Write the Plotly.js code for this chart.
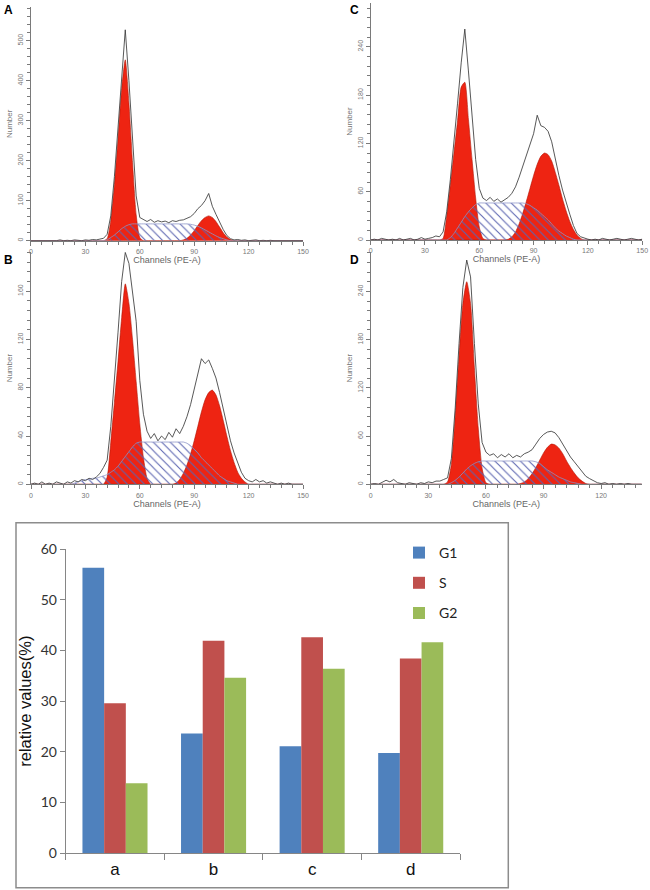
<!DOCTYPE html>
<html>
<head>
<meta charset="utf-8">
<script src="https://cdn.plot.ly/plotly-3.0.1.min.js"></script>
<style>html,body{margin:0;padding:0;background:#fff;}#chart{width:650px;height:890px;}</style>
</head>
<body>
<div id="chart"></div>
<script>
// ---------- DATA ----------
// Flow cytometry channel grid (PE-A)
const channels = [0,2,4,6,8,10,12,14,16,18,20,22,24,26,28,30,32,34,36,38,40,42,44,46,48,50,52,54,56,58,60,62,64,66,68,70,72,74,76,78,80,82,84,86,88,90,92,94,96,98,100,102,104,106,108,110,112,114,116,118,120,122,124,126,128,130,132,134,136,138,140,142,144,146,148,150];

// Panel A
const A_total = [0,0,1,0,0,1,0,0,2,0, 1,0,2,1,0,2,1,3,2,4, 6,16,62,160,285,420,527,400,245,112, 58,52,48,53,46,50,47,49,45,50, 48,51,52,56,60,68,80,88,100,118, 86,66,45,28,13,5,2,3,1,2, 0,1,2,0,1,0,1,0,0,1, 0,0,1,0,0,0];
const A_G1 = [0,0,0,0,0,0,0,0,0,0, 0,0,0,0,0,0,0,0,0,0, 0,5,50,140,255,380,452,345,195,65, 8,0,0,0,0,0,0,0,0,0, 0,0,0,0,0,0,0,0,0,0, 0,0,0,0,0,0,0,0,0,0, 0,0,0,0,0,0,0,0,0,0, 0,0,0,0,0,0];
const A_S = [0,0,0,0,0,0,0,0,0,0, 0,0,0,0,0,0,0,0,0,0, 0,2,8,14,22,30,36,40,42,42, 42,42,42,42,42,42,42,42,42,42, 42,42,42,42,41,39,36,32,27,22, 17,12,8,5,2,0,0,0,0,0, 0,0,0,0,0,0,0,0,0,0, 0,0,0,0,0,0];
const A_G2 = [0,0,0,0,0,0,0,0,0,0, 0,0,0,0,0,0,0,0,0,0, 0,0,0,0,0,0,0,0,0,0, 0,0,0,0,0,0,0,0,0,0, 0,0,2,6,14,25,38,50,58,62, 58,48,34,20,9,3,0,0,0,0, 0,0,0,0,0,0,0,0,0,0, 0,0,0,0,0,0];

// Panel B
const B_total = [0,1,0,2,0,1,0,2,1,0, 2,1,3,2,4,3,5,4,6,9, 14,20,48,85,126,168,192,183,160,135, 86,58,44,38,42,36,40,37,43,39, 46,42,48,56,66,78,90,104,100,103, 96,88,76,62,50,36,26,18,10,5, 3,2,4,2,3,1,2,1,0,1, 0,1,0,0,0,0];
const B_G1 = [0,0,0,0,0,0,0,0,0,0, 0,0,0,0,0,0,0,0,0,0, 0,6,35,68,102,138,166,150,120,85, 50,22,5,0,0,0,0,0,0,0, 0,0,0,0,0,0,0,0,0,0, 0,0,0,0,0,0,0,0,0,0, 0,0,0,0,0,0,0,0,0,0, 0,0,0,0,0,0];
const B_S = [0,0,0,0,0,0,0,0,0,0, 0,0,1,2,3,4,4,5,5,6, 7,8,10,12,15,19,23,27,31,34, 35,35,35,35,35,35,35,35,35,35, 35,35,35,34,32,29,26,22,19,16, 13,10,7,5,3,2,1,0,0,0, 0,0,0,0,0,0,0,0,0,0, 0,0,0,0,0,0];
const B_G2 = [0,0,0,0,0,0,0,0,0,0, 0,0,0,0,0,0,0,0,0,0, 0,0,0,0,0,0,0,0,0,0, 0,0,0,0,0,0,0,0,0,0, 1,4,9,16,25,36,48,60,70,76, 78,74,65,53,40,28,18,10,5,2, 0,0,0,0,0,0,0,0,0,0, 0,0,0,0,0,0];

// Panel C
const C_total = [0,1,0,2,1,0,1,0,2,0, 1,2,0,1,3,1,2,3,5,4, 10,35,75,120,170,220,262,210,150,100, 64,52,49,53,48,51,47,50,53,58, 66,78,92,104,118,132,155,142,140,135, 122,100,80,62,46,32,18,8,4,2, 1,0,1,0,2,1,0,1,2,1, 0,1,2,1,0,1];
const C_G1 = [0,0,0,0,0,0,0,0,0,0, 0,0,0,0,0,0,0,0,0,0, 2,30,68,108,148,190,196,150,100,52, 16,2,0,0,0,0,0,0,0,0, 0,0,0,0,0,0,0,0,0,0, 0,0,0,0,0,0,0,0,0,0, 0,0,0,0,0,0,0,0,0,0, 0,0,0,0,0,0];
const C_S = [0,0,0,0,0,0,0,0,0,0, 0,0,0,0,0,0,0,0,0,0, 0,0,3,8,15,22,29,35,40,44, 46,46,46,46,46,46,46,46,46,46, 46,46,46,45,43,40,37,33,29,25, 20,15,11,8,5,3,1,0,0,0, 0,0,0,0,0,0,0,0,0,0, 0,0,0,0,0,0];
const C_G2 = [0,0,0,0,0,0,0,0,0,0, 0,0,0,0,0,0,0,0,0,0, 0,0,0,0,0,0,0,0,0,0, 0,0,0,0,0,0,0,0,1,4, 10,20,33,48,64,80,94,104,108,106, 98,84,68,51,36,23,13,6,2,0, 0,0,0,0,0,0,0,0,0,0, 0,0,0,0,0,0];

// Panel D
const D_total = [0,1,0,2,5,3,6,2,1,0, 2,1,0,2,1,3,2,4,4,6, 8,32,95,175,245,279,258,175,100,52, 40,36,38,33,37,34,38,33,36,34, 38,40,43,50,57,62,65,66,64,58, 50,42,34,28,22,15,10,7,4,2, 1,2,0,1,0,1,0,1,0,0, 0,0,0,0,0,0];
const D_G1 = [0,0,0,0,0,0,0,0,0,0, 0,0,0,0,0,0,0,0,0,0, 3,25,85,160,225,252,225,145,70,20, 2,0,0,0,0,0,0,0,0,0, 0,0,0,0,0,0,0,0,0,0, 0,0,0,0,0,0,0,0,0,0, 0,0,0,0,0,0,0,0,0,0, 0,0,0,0,0,0];
const D_S = [0,0,0,0,0,0,0,0,0,0, 0,0,0,0,0,0,0,0,0,0, 0,2,5,9,14,19,23,26,28,29, 29,29,29,29,29,29,29,29,29,29, 29,29,29,28,26,22,18,15,12,9, 7,5,3,2,1,0,0,0,0,0, 0,0,0,0,0,0,0,0,0,0, 0,0,0,0,0,0];
const D_G2 = [0,0,0,0,0,0,0,0,0,0, 0,0,0,0,0,0,0,0,0,0, 0,0,0,0,0,0,0,0,0,0, 0,0,0,0,0,0,0,0,0,1, 3,7,13,21,30,39,46,50,49,45, 38,29,21,14,8,4,1,0,0,0, 0,0,0,0,0,0,0,0,0,0, 0,0,0,0,0,0];

// Bar chart (relative values %)
const groups = ['a','b','c','d'];
const phaseNames = ['G1','S','G2'];
const G1_pct = [56.3, 23.6, 21.1, 19.8];
const S_pct  = [29.6, 41.9, 42.6, 38.4];
const G2_pct = [13.8, 34.6, 36.4, 41.6];

// Histogram axis tick steps
const xTickStep = 30;
const yTickStepA = 100, yTickStepB = 40, yTickStepC = 60, yTickStepD = 60;

// ---------- STYLE ----------
const RED = '#ee2412';
const HATCH = '#5b64b0';
const LINE = '#3a3a3a';
const AXC = '#7a7a7a';
const FONT = 'Liberation Sans, Arial, sans-serif';

function histTraces(total, g1, s, g2, xa, ya) {
  const base = {x: channels, xaxis: xa, yaxis: ya, mode: 'lines', showlegend: false, hoverinfo: 'skip'};
  return [
    Object.assign({}, base, {y: g1, fill: 'tozeroy', fillcolor: RED, line: {color: '#b01808', width: 0.6, shape: 'spline', smoothing: 0.6}}),
    Object.assign({}, base, {y: g2, fill: 'tozeroy', fillcolor: RED, line: {color: '#b01808', width: 0.6, shape: 'spline', smoothing: 0.6}}),
    Object.assign({}, base, {y: s, fill: 'tozeroy', fillcolor: 'rgba(0,0,0,0)',
      fillpattern: {shape: '\\', fgcolor: HATCH, bgcolor: 'rgba(255,255,255,0)', size: 6, solidity: 0.18, fillmode: 'replace'},
      line: {color: '#8e95c8', width: 0.8, shape: 'spline', smoothing: 0.6}}),
    Object.assign({}, base, {y: total, line: {color: LINE, width: 0.85}})
  ];
}

function xAx(dom, range, anchor) {
  return {domain: dom, range: range, anchor: anchor, tickmode: 'linear', tick0: 0, dtick: xTickStep,
    ticks: 'outside', ticklen: 4, tickcolor: AXC, showline: true, linecolor: AXC, linewidth: 1,
    showgrid: false, zeroline: false, fixedrange: true,
    tickfont: {family: FONT, size: 7, color: '#777'},
    minor: {tickmode: 'linear', tick0: 0, dtick: 6, ticks: 'outside', ticklen: 3, tickcolor: AXC, showgrid: false},
    title: {text: 'Channels (PE-A)', font: {family: FONT, size: 9, color: '#666'}, standoff: 1}};
}
function yAx(dom, range, step, minorStep, anchor) {
  return {domain: dom, range: range, anchor: anchor, tickmode: 'linear', tick0: 0, dtick: step,
    ticks: 'outside', ticklen: 4, tickcolor: AXC, showline: true, linecolor: AXC, linewidth: 1,
    showgrid: false, zeroline: false, fixedrange: true, tickangle: -90,
    tickfont: {family: FONT, size: 7, color: '#777'},
    minor: {tickmode: 'linear', tick0: 0, dtick: minorStep, ticks: 'outside', ticklen: 3, tickcolor: AXC, showgrid: false},
    title: {text: 'Number', font: {family: FONT, size: 8, color: '#777'}, standoff: 3}};
}

const W = 650, H = 890;
const px = v => v / W;
const py = v => 1 - v / H;

const traces = [].concat(
  histTraces(A_total, A_G1, A_S, A_G2, 'x', 'y'),
  histTraces(B_total, B_G1, B_S, B_G2, 'x2', 'y2'),
  histTraces(C_total, C_G1, C_S, C_G2, 'x3', 'y3'),
  histTraces(D_total, D_G1, D_S, D_G2, 'x4', 'y4')
);

const barColors = ['#4f81bd', '#c0504d', '#9bbb59'];
[G1_pct, S_pct, G2_pct].forEach((vals, i) => {
  traces.push({type: 'bar', x: groups, y: vals, name: phaseNames[i], xaxis: 'x5', yaxis: 'y5',
    marker: {color: barColors[i], line: {width: 0}}, legendgroup: phaseNames[i], hoverinfo: 'skip'});
});

const layout = {
  width: W, height: H, margin: {l: 0, r: 0, t: 0, b: 0},
  paper_bgcolor: '#ffffff', plot_bgcolor: 'rgba(0,0,0,0)',
  barmode: 'group', bargap: 0.34, bargroupgap: 0,
  showlegend: true,
  legend: {x: px(399), y: py(537), xanchor: 'left', yanchor: 'top', bgcolor: 'rgba(0,0,0,0)',
    font: {family: 'Lato, Calibri, sans-serif', size: 14, color: '#222'}, tracegroupgap: 9, itemwidth: 30, traceorder: 'grouped'},
  // tiny offset on A / C x ranges keeps the hidden "0" label off, as in the figure
  xaxis: xAx([px(31), px(303)], [0.01, 150], 'y'),
  yaxis: yAx([py(240.7), py(7)], [0, 584], yTickStepA, 20, 'x'),
  xaxis2: xAx([px(31), px(303)], [0, 150], 'y2'),
  yaxis2: yAx([py(484.3), py(252)], [0, 192.4], yTickStepB, 8, 'x2'),
  xaxis3: xAx([px(370.7), px(642.2)], [0.01, 150], 'y3'),
  yaxis3: yAx([py(240), py(3)], [0, 294.4], yTickStepC, 12, 'x3'),
  xaxis4: xAx([px(370.7), px(641.7)], [0, 141.1], 'y4'),
  yaxis4: yAx([py(484.3), py(252)], [0, 289], yTickStepD, 12, 'x4'),
  xaxis5: {domain: [px(65.7), px(460)], anchor: 'y5', type: 'category', tickson: 'boundaries',
    ticks: 'outside', ticklen: 6, tickcolor: '#868686', showline: true, linecolor: '#868686', linewidth: 1,
    showgrid: false, zeroline: false, fixedrange: true,
    tickfont: {family: 'Liberation Sans, Arial, sans-serif', size: 17, color: '#111'}},
  yaxis5: {domain: [py(853.3), py(549)], anchor: 'x5', range: [0, 60], dtick: 10, tick0: 0,
    ticks: 'outside', ticklen: 5, tickcolor: '#868686', showline: true, linecolor: '#868686', linewidth: 1,
    showgrid: false, zeroline: false, fixedrange: true,
    tickfont: {family: 'Lato, Calibri, sans-serif', size: 14, color: '#333'},
    title: {text: 'relative values(%)', font: {family: 'Liberation Sans, Arial, sans-serif', size: 16.5, color: '#111'}, standoff: 4}},
  shapes: [
    {type: 'rect', xref: 'paper', yref: 'paper', x0: px(16), x1: px(508.3), y0: py(887.7), y1: py(522.7),
      line: {color: '#8c8c8c', width: 1.5}, fillcolor: 'rgba(0,0,0,0)', layer: 'below'}
  ],
  annotations: [
    {text: '<b>A</b>', x: px(2), y: py(1), xref: 'paper', yref: 'paper', xanchor: 'left', yanchor: 'top', showarrow: false, font: {family: FONT, size: 12, color: '#000'}},
    {text: '<b>B</b>', x: px(2), y: py(251), xref: 'paper', yref: 'paper', xanchor: 'left', yanchor: 'top', showarrow: false, font: {family: FONT, size: 12, color: '#000'}},
    {text: '<b>C</b>', x: px(348), y: py(1), xref: 'paper', yref: 'paper', xanchor: 'left', yanchor: 'top', showarrow: false, font: {family: FONT, size: 12, color: '#000'}},
    {text: '<b>D</b>', x: px(348), y: py(251), xref: 'paper', yref: 'paper', xanchor: 'left', yanchor: 'top', showarrow: false, font: {family: FONT, size: 12, color: '#000'}}
  ]
};

Plotly.newPlot('chart', traces, layout, {displayModeBar: false, staticPlot: true});
</script>
</body>
</html>
